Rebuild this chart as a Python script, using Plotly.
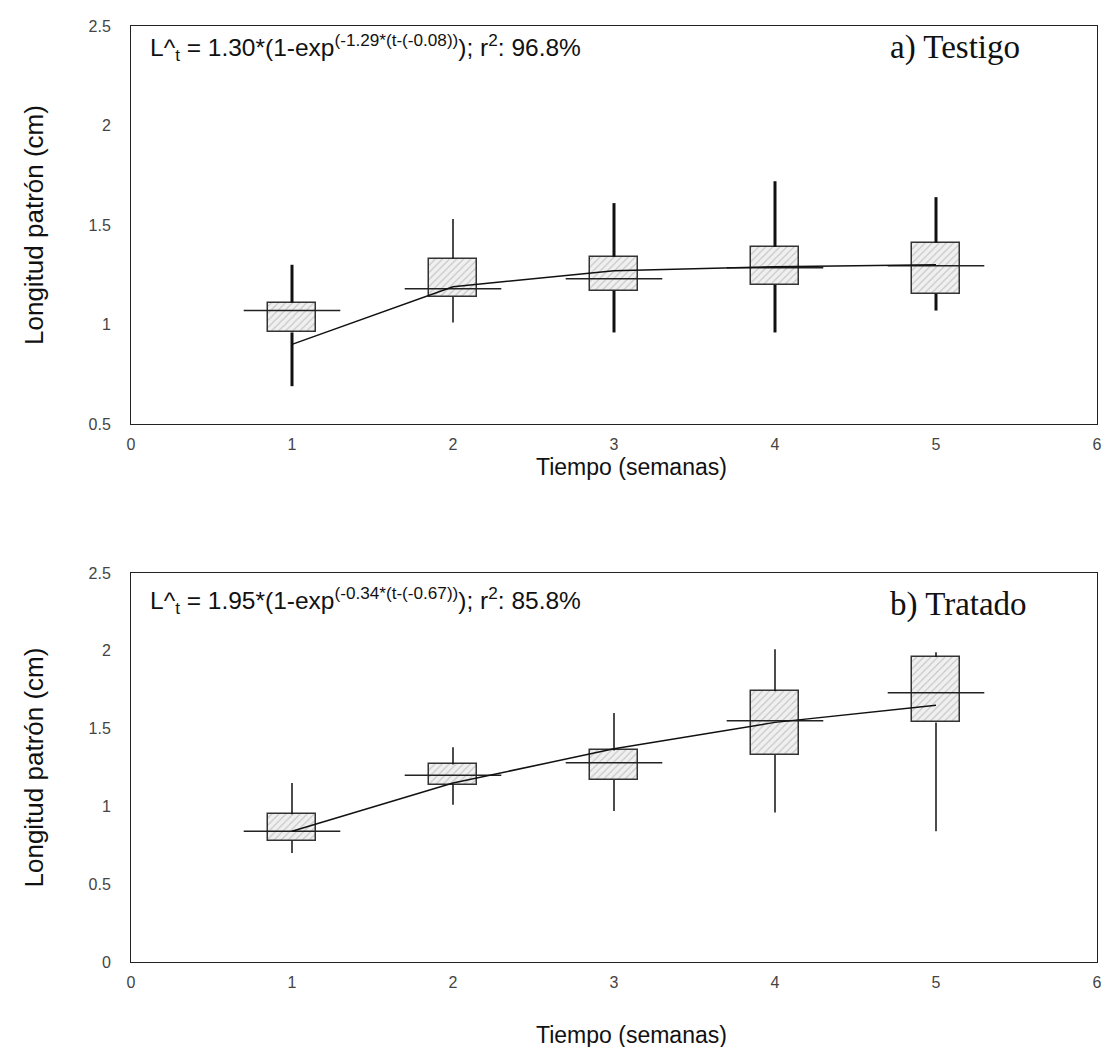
import plotly.graph_objects as go
from plotly.subplots import make_subplots

# ---------------- data ----------------
weeks = [1, 2, 3, 4, 5]

# a) Testigo
a_low = [0.69, 1.01, 0.96, 0.96, 1.07]
a_q1 = [0.96, 1.14, 1.17, 1.20, 1.155]
a_q3 = [1.11, 1.33, 1.34, 1.39, 1.41]
a_high = [1.30, 1.53, 1.61, 1.72, 1.64]
a_mean = [1.07, 1.18, 1.23, 1.285, 1.295]
a_fit = [0.90, 1.19, 1.27, 1.29, 1.30]

# b) Tratado
b_low = [0.70, 1.01, 0.97, 0.96, 0.84]
b_q1 = [0.78, 1.14, 1.17, 1.33, 1.54]
b_q3 = [0.95, 1.27, 1.36, 1.74, 1.96]
b_high = [1.15, 1.38, 1.60, 2.01, 1.99]
b_mean = [0.84, 1.20, 1.28, 1.55, 1.73]
b_fit = [0.84, 1.15, 1.37, 1.54, 1.65]

x_ticks = [0, 1, 2, 3, 4, 5, 6]
a_yticks = [0.5, 1, 1.5, 2, 2.5]
b_yticks = [0, 0.5, 1, 1.5, 2, 2.5]

a_eq = "L^<sub>t</sub> = 1.30*(1-exp<sup>(-1.29*(t-(-0.08))</sup>); r<sup>2</sup>: 96.8%"
b_eq = "L^<sub>t</sub> = 1.95*(1-exp<sup>(-0.34*(t-(-0.67))</sup>); r<sup>2</sup>: 85.8%"
a_label = "a) Testigo"
b_label = "b) Tratado"
y_title = "Longitud patrón (cm)"
x_title = "Tiempo (semanas)"

# ---------------- style ----------------
BOX_W = 0.3
MEAN_HALF = 0.3
a_whisker_w = [3, 1.5, 3, 3, 3]
b_whisker_w = [1.5, 1.5, 1.5, 1.5, 1.5]
SANS = "Liberation Sans, Arial, sans-serif"
SERIF = "Liberation Serif, Times New Roman, serif"

fig = make_subplots(rows=2, cols=1, vertical_spacing=0.1)


def add_panel(row, low, q1, q3, high, mean, fit, wwidths):
    fig.add_trace(go.Bar(
        x=weeks, y=[h - l for h, l in zip(q3, q1)], base=q1, width=BOX_W,
        marker=dict(color="#eeeeee", line=dict(color="#333333", width=1.5),
                    pattern=dict(shape="/", fgcolor="#999999", bgcolor="#f0f0f0",
                                 size=5, solidity=0.22)),
        showlegend=False, hoverinfo="skip"), row=row, col=1)
    for w in sorted(set(wwidths)):
        xs, ys = [], []
        for t, lo, a, b, hi, ww in zip(weeks, low, q1, q3, high, wwidths):
            if ww != w:
                continue
            xs += [t, t, None, t, t, None]
            ys += [b, hi, None, lo, a, None]
        fig.add_trace(go.Scatter(x=xs, y=ys, mode="lines",
                                 line=dict(color="#111111", width=w),
                                 showlegend=False, hoverinfo="skip"), row=row, col=1)
    mx, my = [], []
    for t, m in zip(weeks, mean):
        mx += [t - MEAN_HALF, t + MEAN_HALF, None]
        my += [m, m, None]
    fig.add_trace(go.Scatter(x=mx, y=my, mode="lines",
                             line=dict(color="#222222", width=1.5),
                             showlegend=False, hoverinfo="skip"), row=row, col=1)
    fig.add_trace(go.Scatter(x=weeks, y=fit, mode="lines",
                             line=dict(color="#111111", width=1.5),
                             showlegend=False, hoverinfo="skip"), row=row, col=1)


add_panel(1, a_low, a_q1, a_q3, a_high, a_mean, a_fit, a_whisker_w)
add_panel(2, b_low, b_q1, b_q3, b_high, b_mean, b_fit, b_whisker_w)

axis_common = dict(showline=True, linecolor="#222222", linewidth=1, mirror=True,
                   showgrid=False, zeroline=False, ticks="",
                   tickfont=dict(family=SANS, size=16, color="#444444"))

fig.update_xaxes(range=[0, 6], tickvals=x_ticks, ticklabelstandoff=6, **axis_common)
fig.update_yaxes(ticklabelstandoff=16, **axis_common)
fig.update_yaxes(range=[0.5, 2.5], tickvals=a_yticks, row=1, col=1)
fig.update_yaxes(range=[0, 2.5], tickvals=b_yticks, row=2, col=1)

# page body has an 8px default margin; compensate so the plot lands where the reference has it
fig.update_layout(
    width=1101, height=1039,
    margin=dict(l=123, r=7, t=18, b=85),
    plot_bgcolor="white", paper_bgcolor="white",
    bargap=0,
    xaxis=dict(domain=[0, 1]), xaxis2=dict(domain=[0, 1]),
    yaxis=dict(domain=[0.5748, 1]), yaxis2=dict(domain=[0, 0.4156]),
)

for xref, yref, eq, lab, ey, ly, tshift in [
        ("x domain", "y domain", a_eq, a_label, 0.947, 0.945, -43),
        ("x2 domain", "y2 domain", b_eq, b_label, 0.93, 0.92, -73)]:
    fig.add_annotation(xref=xref, yref=yref, x=0.0175, y=ey, xanchor="left", yanchor="middle",
                       text=eq, showarrow=False,
                       font=dict(family=SANS, size=24.5, color="#111111"))
    fig.add_annotation(xref=xref, yref=yref, x=0.784, y=ly, xanchor="left", yanchor="middle",
                       text=lab, showarrow=False,
                       font=dict(family=SERIF, size=33, color="#111111"))
    # axis titles
    fig.add_annotation(xref=xref, yref=yref, x=0, y=0.5, xshift=-97, textangle=-90,
                       xanchor="center", yanchor="middle", text=y_title, showarrow=False,
                       font=dict(family=SANS, size=26, color="#111111"))
    fig.add_annotation(xref=xref, yref=yref, x=0.5, y=0, yshift=tshift, xshift=17,
                       xanchor="center", yanchor="middle", text=x_title, showarrow=False,
                       font=dict(family=SANS, size=23, color="#111111"))

fig.write_html("out.html")
